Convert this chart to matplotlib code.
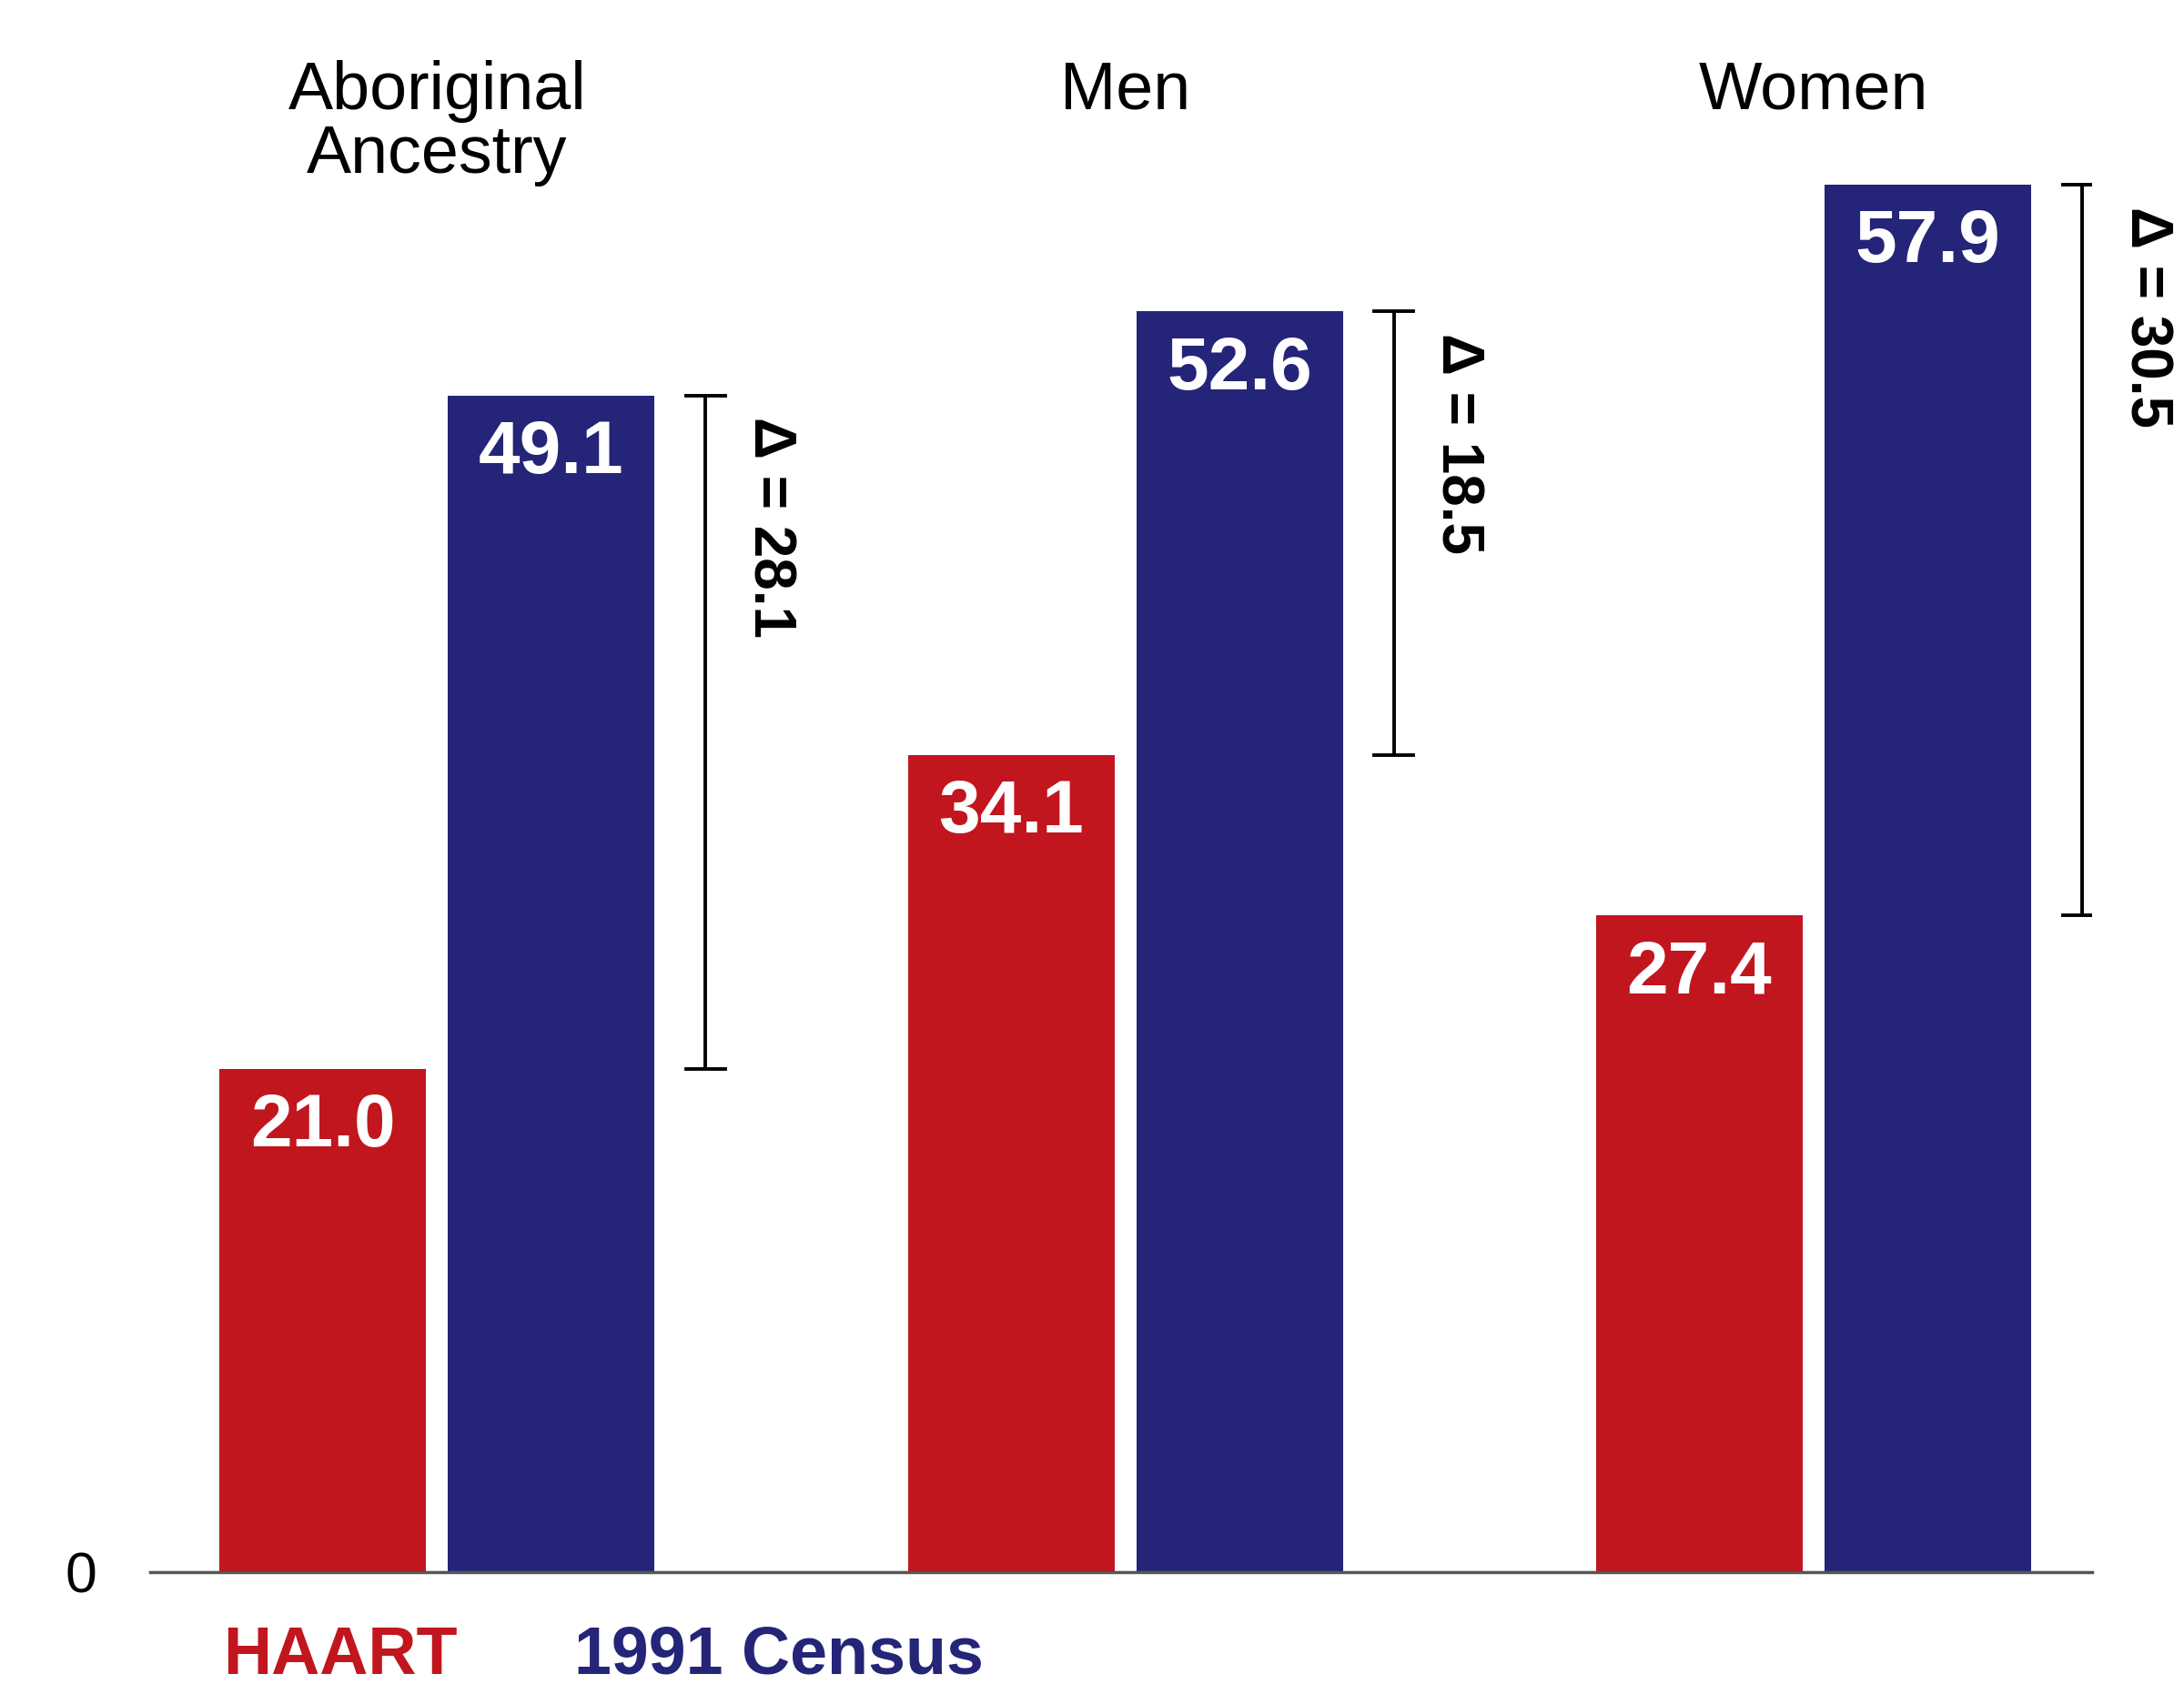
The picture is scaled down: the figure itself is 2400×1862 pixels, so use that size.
import numpy as np
import matplotlib.pyplot as plt

plt.rcParams['font.family'] = ['Liberation Sans', 'DejaVu Sans']

groups = ['Aboriginal\nAncestry', 'Men', 'Women']
haart = [21.0, 34.1, 27.4]
census = [49.1, 52.6, 57.9]
deltas = ['28.1', '18.5', '30.5']
series_names = ['HAART', '1991 Census']

red = '#C1161E'
navy = '#242478'

fig = plt.figure(figsize=(24, 18.62), dpi=100)
ax = fig.add_axes([0.06875, 0.072, 0.8893, 0.928])

x = np.arange(len(groups))
w = 0.3
off = 0.166

ax.bar(x - off, haart, width=w, color=red)
ax.bar(x + off, census, width=w, color=navy)

# value labels inside bars
for xi, h, c in zip(x, haart, census):
    ax.text(xi - off, h - 2.45, '%.1f' % h, color='white', fontsize=59,
            fontweight='bold', ha='center', va='center')
    ax.text(xi + off, c - 2.45, '%.1f' % c, color='white', fontsize=59,
            fontweight='bold', ha='center', va='center')

# delta brackets
for xi, h, c, d in zip(x, haart, census, deltas):
    bx = xi + 0.39
    ax.plot([bx, bx], [h, c], color='black', lw=2.8, solid_capstyle='butt')
    ax.plot([bx - 0.028, bx + 0.028], [c, c], color='black', lw=2.8)
    ax.plot([bx - 0.028, bx + 0.028], [h, h], color='black', lw=2.8)
    ax.text(xi + 0.483, c - 0.9, '\u0394 = ' + d, rotation=-90, fontsize=46,
            fontweight='bold', ha='center', va='top')

# group titles
for xi, g in zip(x, groups):
    ax.text(xi, 63.1, g, fontsize=53, ha='center', va='top', linespacing=1.03)

# legend text (kept just inside the bottom edge)
ax.text(-0.3115, -3.5, series_names[0], color=red, fontsize=53,
        fontweight='bold', ha='left', va='center', clip_on=False)
ax.text(0.199, -3.5, series_names[1], color=navy, fontsize=53,
        fontweight='bold', ha='left', va='center', clip_on=False)

ax.set_xlim(-0.417, 2.405)
ax.set_ylim(0, 65.6)
ax.set_xticks([])
ax.set_yticks([0])
ax.set_yticklabels(['0'], fontsize=45)
ax.tick_params(axis='y', length=0, pad=42)
for s in ['top', 'right', 'left']:
    ax.spines[s].set_visible(False)
ax.spines['bottom'].set_color('#555555')
ax.spines['bottom'].set_linewidth(2.5)

fig.savefig('out.png', dpi=100)
